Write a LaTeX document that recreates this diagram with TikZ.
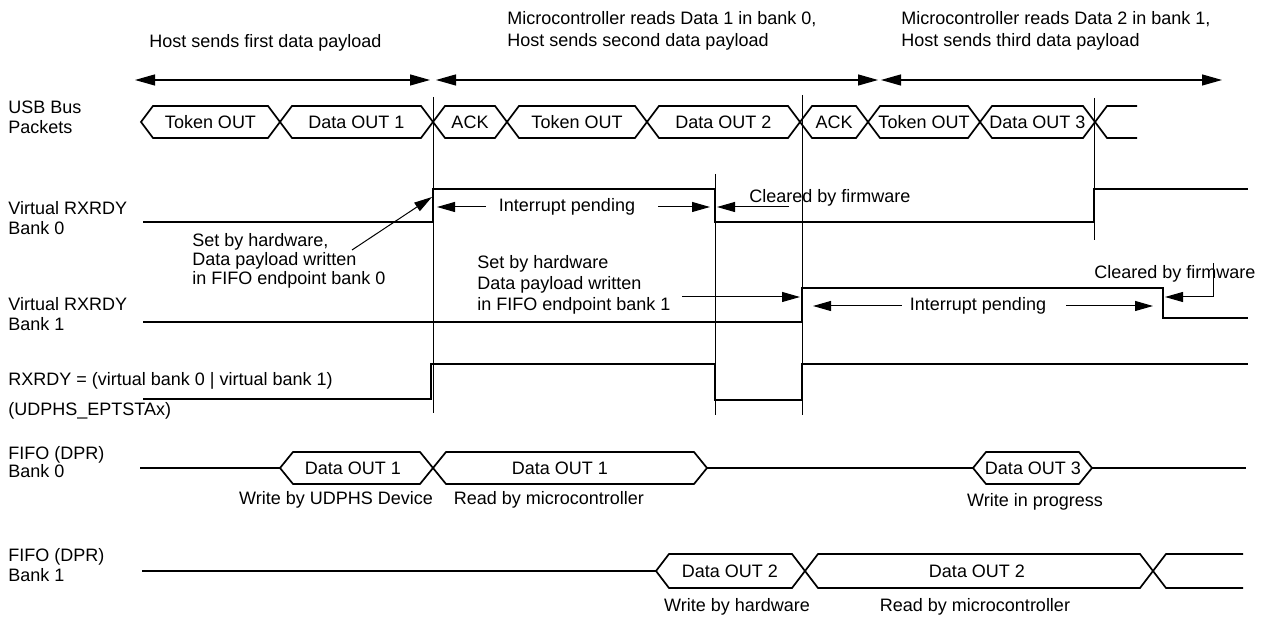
\documentclass[tikz,border=0pt]{standalone}
\usepackage{fontspec}
\setmainfont{Liberation Sans}
\usetikzlibrary{arrows.meta}

\tikzset{
    line cap=butt,
    line join=miter,
    lbl/.style={
        font=\fontsize{9}{10}\selectfont,
        inner sep=0pt,
        align=left
    },
    caption/.style={lbl, font=\fontsize{9}{11}\selectfont},
    packet/.style={lbl, align=center},
    sig/.style={draw=black, line width=1pt},
    bus/.style={draw=black, line width=0.85pt},
    guide/.style={draw=black, line width=0.45pt},
    span/.style={
        <->,
        >={Triangle[length=10pt, width=5.5pt]},
        line width=0.6pt
    },
    callout/.style={
        ->,
        >={Triangle[length=9pt, width=5pt]},
        line width=0.5pt
    }
}

\begin{document}
\begin{tikzpicture}[x=0.5pt, y=-0.5pt, every node/.style={lbl}]
\useasboundingbox (0,0) rectangle (1265,619);

% Phase captions
\node[caption, anchor=west] (cap1) at (149,43) {Host sends first data payload};
\node[caption, anchor=west] (cap2) at (507,31) {Microcontroller reads Data 1 in bank 0,\\Host sends second data payload};
\node[caption, anchor=west] (cap3) at (901,31) {Microcontroller reads Data 2 in bank 1,\\Host sends third data payload};

% Phase spans
\coordinate (ph0) at (135,80);
\coordinate (ph1a) at (430,80);
\coordinate (ph1b) at (436,80);
\coordinate (ph2a) at (878,80);
\coordinate (ph2b) at (881,80);
\coordinate (ph3) at (1222,80);
\draw[span] (ph0) -- (ph1a);
\draw[span] (ph1b) -- (ph2a);
\draw[span] (ph2b) -- (ph3);

% Signal names
\node[anchor=west] (nusb) at (8,117) {USB Bus\\Packets};
\node[anchor=west] (nvb0) at (8,218) {Virtual RXRDY\\Bank 0};
\node[anchor=west] (nvb1) at (8,314) {Virtual RXRDY\\Bank 1};
\node[anchor=west, font=\fontsize{9}{15}\selectfont] (nrx) at (8,396) {RXRDY = (virtual bank 0 | virtual bank 1)\\(UDPHS\_EPTSTAx)};
\node[anchor=west, font=\fontsize{9}{7.5}\selectfont] (nfifo0) at (8,462) {FIFO (DPR)\\Bank 0};
\node[anchor=west] (nfifo1) at (8,565) {FIFO (DPR)\\Bank 1};

% Guides
\draw[guide] (433,97) -- (433,413);
\draw[guide] (715,174) -- (715,415);
\draw[guide] (802,95) -- (802,415);
\draw[guide] (1094,98) -- (1094,240);

% USB bus packets
\foreach \a/\b/\txt [count=\i] in {141/280/Token OUT, 280/433/Data OUT 1,
    433/507/ACK, 507/647/Token OUT, 647/800/Data OUT 2, 800/868/ACK,
    868/980/Token OUT, 980/1095/Data OUT 3} {
    \draw[bus] (\a,122) -- (\a+12,106) -- (\b-12,106) -- (\b,122)
        -- (\b-12,138) -- (\a+12,138) -- cycle;
    \node[packet] (pkt\i) at ({(\a+\b)/2},122) {\txt};
}
\draw[bus] (1137,106) -- (1107,106) -- (1095,122) -- (1107,138) -- (1137,138);

% Virtual banks and RXRDY
\draw[sig] (143,222) -- (433,222) -- (433,189) -- (715,189) -- (715,222)
    -- (1094,222) -- (1094,189) -- (1248,189);
\draw[sig] (143,322) -- (802,322) -- (802,288) -- (1163,288) -- (1163,318)
    -- (1248,318);
\draw[sig] (143,399) -- (431,399) -- (431,364) -- (715,364) -- (715,400)
    -- (802,400) -- (802,364) -- (1248,364);

% Bank 0 notes
\node[anchor=west, font=\fontsize{9}{9.5}\selectfont] (set0) at (192,261) {Set by hardware,\\Data payload written\\in FIFO endpoint bank 0};
\coordinate (set0a) at (352,250);
\coordinate (set0b) at (432,197);
\draw[callout] (set0a) -- (set0b);

\node (irq0) at (567,207) {Interrupt pending};
\coordinate (irq0l) at (437,207);
\coordinate (irq0r) at (710,207);
\draw[callout] (irq0.west) ++(-13,0) -- (irq0l);
\draw[callout] (irq0.east) ++(23,0) -- (irq0r);

\node[anchor=west] (clr0) at (749,198) {Cleared by firmware};
\coordinate (clr0a) at (789,207);
\coordinate (clr0b) at (717,207);
\draw[callout] (clr0a) -- (clr0b);

% Bank 1 notes
\node[anchor=west, font=\fontsize{9}{10.5}\selectfont] (set1) at (477,285) {Set by hardware\\Data payload written\\in FIFO endpoint bank 1};
\coordinate (set1a) at (682,297);
\coordinate (set1b) at (800,297);
\draw[callout] (set1a) -- (set1b);

\node (irq1) at (978,306) {Interrupt pending};
\coordinate (irq1l) at (813,306);
\coordinate (irq1r) at (1153,306);
\draw[callout] (irq1.west) ++(-8,0) -- (irq1l);
\draw[callout] (irq1.east) ++(20,0) -- (irq1r);

\node[anchor=west] (clr1) at (1094,274) {Cleared by firmware};
\coordinate (clr1a) at (1213,263);
\coordinate (clr1b) at (1165,297);
\draw[callout] (clr1a) |- (clr1b);

% FIFO bank 0
\draw[bus] (140,468) -- (280,468);
\draw[bus] (280,468) -- (293,452) -- (420,452) -- (433,468) -- (420,484)
    -- (293,484) -- cycle;
\draw[bus] (433,468) -- (446,452) -- (694,452) -- (707,468) -- (694,484)
    -- (446,484) -- cycle;
\draw[bus] (707,468) -- (973,468);
\draw[bus] (973,468) -- (986,452) -- (1079,452) -- (1092,468) -- (1079,484)
    -- (986,484) -- cycle;
\draw[bus] (1092,468) -- (1246,468);
\node (f0d1) at (353,468) {Data OUT 1};
\node (f0d1r) at (560,468) {Data OUT 1};
\node (f0d3) at (1033,468) {Data OUT 3};
\node (f0w) at (336,500) {Write by UDPHS Device};
\node (f0r) at (549,500) {Read by microcontroller};
\node (f0p) at (1035,502) {Write in progress};

% FIFO bank 1
\draw[bus] (142,571) -- (656,571);
\draw[bus] (656,571) -- (669,554) -- (792,554) -- (805,571) -- (792,588)
    -- (669,588) -- cycle;
\draw[bus] (805,571) -- (818,554) -- (1140,554) -- (1153,571) -- (1140,588)
    -- (818,588) -- cycle;
\draw[bus] (1243,554) -- (1166,554) -- (1153,571) -- (1166,588) -- (1243,588);
\node (f1d2) at (730,571) {Data OUT 2};
\node (f1d2r) at (977,571) {Data OUT 2};
\node (f1w) at (737,607) {Write by hardware};
\node (f1r) at (975,607) {Read by microcontroller};
\end{tikzpicture}
\end{document}
